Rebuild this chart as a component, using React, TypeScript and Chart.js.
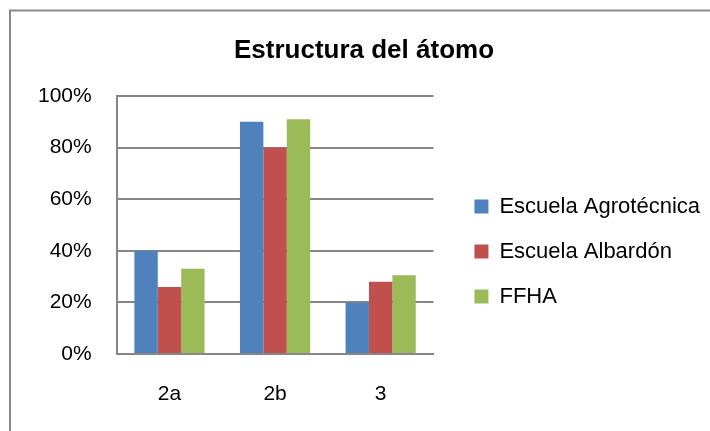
import React, { useEffect, useRef } from "react";
import { Chart, registerables } from "chart.js";

Chart.register(...registerables);

const chartTitle = "Estructura del átomo";
const categories = ["2a", "2b", "3"];
const seriesNames = ["Escuela Agrotécnica", "Escuela Albardón", "FFHA"];
const agrotecnica = [0.40, 0.90, 0.20];
const albardon = [0.26, 0.80, 0.28];
const ffha = [0.33, 0.91, 0.305];
const seriesColors = ["#4F81BD", "#C0504D", "#9BBB59"];
const yTicks = [0, 0.2, 0.4, 0.6, 0.8, 1];

const FONT = "'Liberation Sans', Arial, sans-serif";

export default function App() {
  const ref = useRef<HTMLCanvasElement | null>(null);

  useEffect(() => {
    if (!ref.current) return;
    const frame = {
      id: "frame",
      beforeDraw(chart: any) {
        const c = chart.ctx;
        c.save();
        c.strokeStyle = "#898989";
        c.lineWidth = 2;
        c.beginPath();
        c.moveTo(10, 440);
        c.lineTo(10, 10.5);
        c.lineTo(720, 10.5);
        c.stroke();
        c.restore();
      },
      afterDraw(chart: any) {
        const c = chart.ctx;
        c.save();
        c.fillStyle = "#000";
        c.font = `bold 26px ${FONT}`;
        c.textAlign = "center";
        c.textBaseline = "alphabetic";
        c.fillText(chartTitle, 364, 57.5);
        c.restore();
      },
    };
    const data = [agrotecnica, albardon, ffha];
    const chart = new Chart(ref.current, {
      type: "bar",
      data: {
        labels: categories,
        datasets: seriesNames.map((n, i) => ({
          label: n,
          data: data[i],
          backgroundColor: seriesColors[i],
          borderWidth: 0,
          categoryPercentage: 0.665,
          barPercentage: 1,
        })),
      },
      options: {
        animation: false,
        responsive: false,
        maintainAspectRatio: false,
        devicePixelRatio: 1,
        layout: { padding: { left: 13, top: 96, right: 0, bottom: 24 } },
        plugins: {
          title: { display: false },
          tooltip: { enabled: false },
          legend: {
            position: "right",
            align: "center",
            maxWidth: 400,
            labels: {
              boxWidth: 14,
              boxHeight: 14,
              padding: 23,
              color: "#000",
              font: { family: FONT, size: 22 },
            },
          },
        },
        scales: {
          x: {
            grid: { display: false, drawTicks: false },
            border: { display: true, color: "#868686", width: 2 },
            ticks: { color: "#000", padding: 28, maxRotation: 0, font: { family: FONT, size: 21 } },
            afterFit: (s: any) => {
              s.height = 53;
            },
          },
          y: {
            min: 0,
            max: 1,
            afterBuildTicks: (s: any) => {
              s.ticks = yTicks.map((v) => ({ value: v }));
            },
            grid: { color: "#868686", lineWidth: 2, drawTicks: false },
            border: { display: true, color: "#868686", width: 2 },
            ticks: {
              color: "#000",
              padding: 25,
              font: { family: FONT, size: 21 },
              callback: (v: any) => Math.round(Number(v) * 100) + "%",
            },
          },
          spacer: {
            type: "linear",
            position: "right",
            display: true,
            grid: { display: false, drawTicks: false },
            border: { display: false },
            ticks: { display: false },
            afterFit: (s: any) => {
              s.width = 18;
            },
          },
        },
      },
      plugins: [frame],
    } as any);
    return () => chart.destroy();
  }, []);

  return (
    <div style={{ position: "fixed", left: 0, top: 0, width: 710, height: 431, overflow: "hidden", background: "#fff" }}>
      <canvas ref={ref} width={710} height={431} style={{ display: "block", width: 710, height: 431 }} />
    </div>
  );
}
